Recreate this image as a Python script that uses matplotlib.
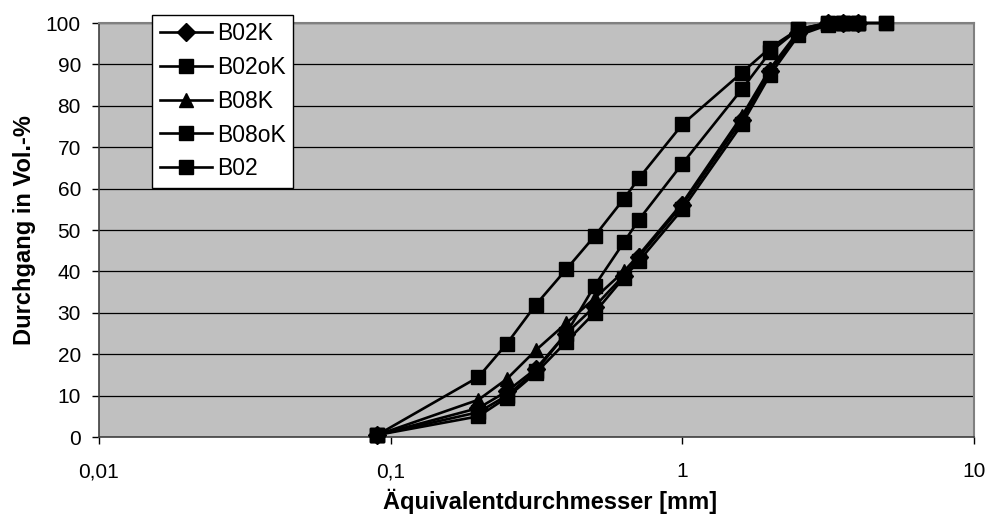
import numpy as np
import matplotlib
matplotlib.use("Agg")
import matplotlib.pyplot as plt
from matplotlib.ticker import FixedLocator, FixedFormatter, NullLocator

plt.rcParams['font.family'] = ['Liberation Sans', 'DejaVu Sans']

# sieve sizes in mm
x_main = [0.09, 0.2, 0.25, 0.315, 0.4, 0.5, 0.63, 0.71, 1.0, 1.6, 2.0, 2.5, 3.15, 3.55, 4.0]
x_long = [0.09, 0.2, 0.25, 0.315, 0.4, 0.5, 0.63, 0.71, 1.0, 1.6, 2.0, 2.5, 3.15, 3.55, 4.0, 5.0]

b02k = [0.5, 7.0, 11.0, 16.5, 25.0, 31.5, 39.0, 43.5, 56.0, 76.5, 88.5, 97.5, 100, 100, 100]
b02ok = [0.5, 14.5, 22.5, 32.0, 40.5, 48.5, 57.5, 62.5, 75.5, 88.0, 94.0, 98.5, 100, 100, 100, 100]
b08k = [0.5, 9.0, 14.0, 21.0, 27.5, 33.5, 40.0, 44.0, 56.5, 77.5, 89.0, 98.0, 100, 100, 100]
b08ok = [0.5, 5.0, 9.5, 15.5, 23.0, 30.0, 38.5, 42.5, 55.0, 75.5, 87.5, 97.0, 99.5, 100, 100]
b02 = [0.5, 6.0, 10.0, 16.0, 25.0, 36.5, 47.0, 52.5, 66.0, 84.0, 93.0, 98.5, 100, 100, 100, 100]

series = [
    ("B02K", x_main, b02k, 'D', 9),
    ("B02oK", x_long, b02ok, 's', 10),
    ("B08K", x_main, b08k, '^', 10.5),
    ("B08oK", x_main, b08ok, 's', 9.5),
    ("B02", x_long, b02, 's', 9.5),
]

fig = plt.figure(figsize=(9.87, 5.23), dpi=100)
ax = fig.add_axes([0.1003, 0.1644, 0.8865, 0.7916])
ax.set_facecolor('#C0C0C0')

for name, xs, ys, mk, ms in series:
    ax.plot(xs, ys, color='black', lw=1.9, marker=mk, ms=ms, clip_on=False,
            markerfacecolor='black', markeredgecolor='black', label=name, zorder=3)

ax.set_xscale('log')
ax.set_xlim(0.01, 10)
ax.set_ylim(0, 100)
ax.xaxis.set_major_locator(FixedLocator([0.01, 0.1, 1, 10]))
ax.xaxis.set_major_formatter(FixedFormatter(['0,01', '0,1', '1', '10']))
ax.xaxis.set_minor_locator(NullLocator())
ax.set_yticks(np.arange(0, 101, 10))

ax.grid(axis='y', color='black', lw=0.9, zorder=1)
ax.set_axisbelow(True)

for side in ['top', 'right']:
    ax.spines[side].set_color('#808080')
    ax.spines[side].set_linewidth(1.5)
for side in ['left', 'bottom']:
    ax.spines[side].set_color('#404040')
    ax.spines[side].set_linewidth(1.2)

ax.tick_params(axis='both', direction='out', length=5, width=1, labelsize=15, colors='black')
ax.tick_params(axis='x', pad=13)
ax.tick_params(axis='y', pad=8)

ax.set_xlabel('Äquivalentdurchmesser [mm]', fontsize=17, fontweight='bold')
ax.set_ylabel('Durchgang in Vol.-%', fontsize=17, fontweight='bold')
ax.xaxis.set_label_coords(0.515, -0.125)
ax.yaxis.set_label_coords(-0.072, 0.5)

leg = ax.legend(loc='upper left', bbox_to_anchor=(0.154, 0.972), bbox_transform=fig.transFigure,
                borderaxespad=0, fontsize=16.5, frameon=True, fancybox=False,
                edgecolor='black', framealpha=1, handlelength=2.3, handletextpad=0.2,
                labelspacing=0.47, borderpad=0.33)
leg.get_frame().set_linewidth(1.0)
leg.set_zorder(5)

fig.savefig('out.png', dpi=100)
